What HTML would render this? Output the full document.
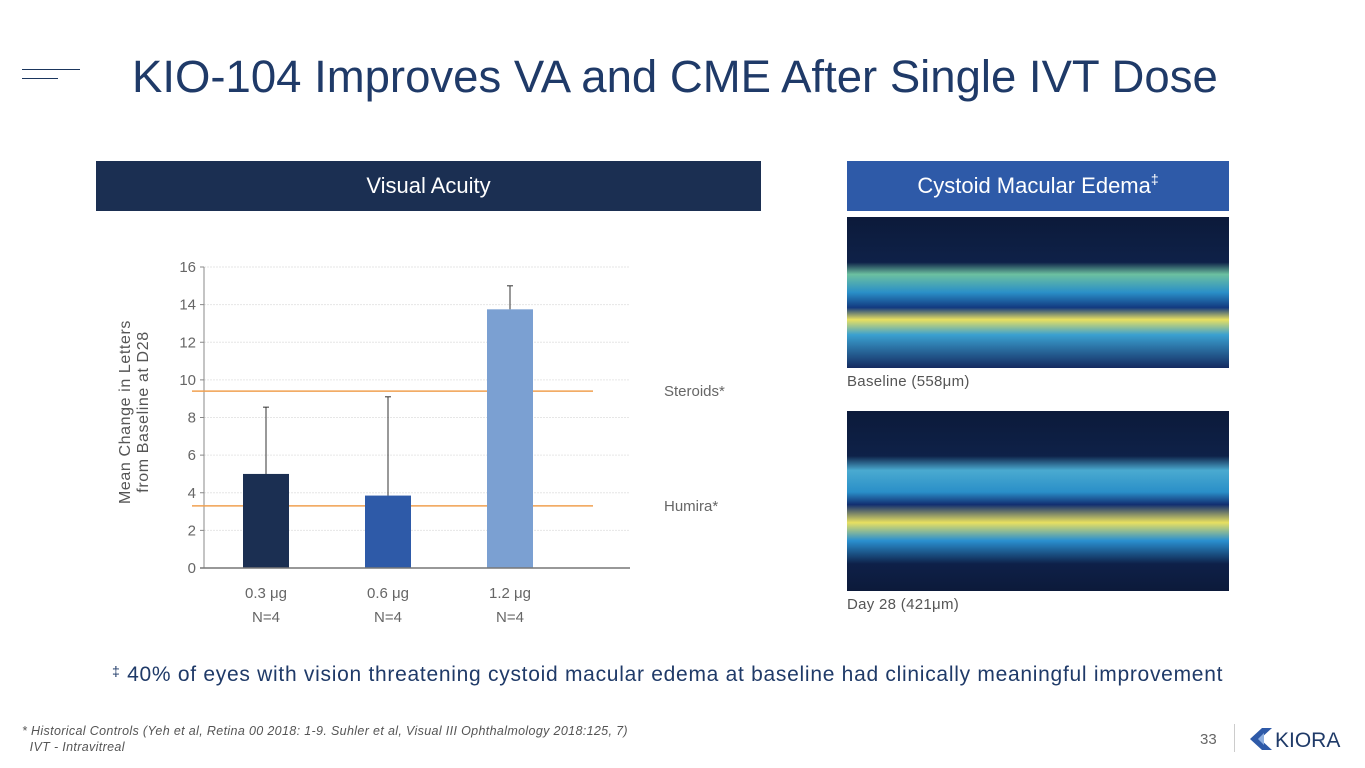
<!DOCTYPE html>
<html><head><meta charset="utf-8"><style>
body{margin:0;width:1365px;height:768px;background:#fff;position:relative;overflow:hidden;font-family:"Liberation Sans",sans-serif}
.abs{position:absolute}
</style></head><body>
<div class="abs" style="left:22px;top:69px;width:58px;height:1px;background:#1b365d"></div>
<div class="abs" style="left:22px;top:78px;width:36px;height:1px;background:#1b365d"></div>
<div class="abs" style="left:132px;top:51px;font-size:45.5px;color:#1f3a68;white-space:nowrap">KIO-104 Improves VA and CME After Single IVT Dose</div>
<div class="abs" style="left:96px;top:161px;width:665px;height:50px;background:#1b2f52;color:#fff;font-size:22px;line-height:50px;text-align:center">Visual Acuity</div>
<div class="abs" style="left:847px;top:161px;width:382px;height:50px;background:#2e5aa8;color:#fff;font-size:22px;line-height:50px;text-align:center">Cystoid Macular Edema<span style="font-size:14px;vertical-align:top;line-height:36px">‡</span></div>

<svg class="abs" style="left:0;top:0" width="1365" height="768">
<defs>
<linearGradient id="oct1" x1="0" y1="0" x2="0" y2="1">
<stop offset="0" stop-color="#0c1a3a"/><stop offset="0.3" stop-color="#0e2148"/><stop offset="0.38" stop-color="#6cc0a0"/><stop offset="0.5" stop-color="#2a8fc8"/><stop offset="0.6" stop-color="#123a80"/><stop offset="0.68" stop-color="#e8e060"/><stop offset="0.78" stop-color="#3aa0d0"/><stop offset="1" stop-color="#142a60"/></linearGradient>
<linearGradient id="oct2" x1="0" y1="0" x2="0" y2="1">
<stop offset="0" stop-color="#0c1a3a"/><stop offset="0.25" stop-color="#0e2148"/><stop offset="0.33" stop-color="#4aaad0"/><stop offset="0.45" stop-color="#2a8fc8"/><stop offset="0.52" stop-color="#122e70"/><stop offset="0.62" stop-color="#e8e060"/><stop offset="0.72" stop-color="#2a90d0"/><stop offset="0.85" stop-color="#0e2048"/><stop offset="1" stop-color="#0c1a3a"/></linearGradient>
</defs>
<rect x="847" y="217" width="382" height="151" fill="url(#oct1)"/>
<rect x="847" y="411" width="382" height="180" fill="url(#oct2)"/>
<g id="chart"></g>
</svg>

<div class="abs" style="left:847px;top:373px;font-size:15px;color:#555;letter-spacing:0.3px">Baseline (558μm)</div>
<div class="abs" style="left:847px;top:596px;font-size:15px;color:#555;letter-spacing:0.3px">Day 28 (421μm)</div>
<div class="abs" style="left:115px;top:252px;width:40px;height:260px;">
<div style="position:absolute;left:20px;top:160px;transform:translate(-50%,-50%) rotate(-90deg);white-space:nowrap;text-align:center;font-size:16px;line-height:18px;color:#555;letter-spacing:0.6px">Mean Change in Letters<br>from Baseline at D28</div></div>
<div class="abs" style="left:112px;top:663px;font-size:21px;letter-spacing:0.72px;color:#1f3a68;white-space:nowrap"><span style="font-size:14px;vertical-align:top">‡</span> 40% of eyes with vision threatening cystoid macular edema at baseline had clinically meaningful improvement</div>
<div class="abs" style="left:22px;top:723px;font-size:12.5px;letter-spacing:0.35px;font-style:italic;color:#555;line-height:16px;white-space:nowrap">* Historical Controls (Yeh et al, Retina 00 2018: 1-9. Suhler et al, Visual III Ophthalmology 2018:125, 7)<br>&nbsp;&nbsp;IVT - Intravitreal</div>
<div class="abs" style="left:1200px;top:731px;font-size:15px;color:#666">33</div>
<div class="abs" style="left:1234px;top:724px;width:1px;height:28px;background:#ccc"></div>
<svg class="abs" style="left:1248px;top:726px" width="26" height="26"><polygon points="2,13 14,2 24,2 12,13 24,24 14,24" fill="#2e5aa8"/><polygon points="10,13 16,7 16,19" fill="#8fb0e0"/></svg>
<div class="abs" style="left:1275px;top:729px;font-size:21px;color:#1f3a68">KIORA</div>

<script>
const categories=["0.3 μg","0.6 μg","1.2 μg"];
const nLabels=["N=4","N=4","N=4"];
const values=[5.0,3.85,13.75];
const errorTops=[8.55,9.1,15.0];
const barColors=["#1b2f52","#2e5aa8","#7ba0d2"];
const yTicks=[0,2,4,6,8,10,12,14,16];
const refLabels=["Steroids*","Humira*"];
const refValues=[9.4,3.3];
const ns="http://www.w3.org/2000/svg";
const g=document.getElementById("chart");
const y0=568,y1=267,vmax=16;
const yS=v=>y0-(v/vmax)*(y0-y1);
const xL=204,xR=630,bandW=122,firstCenter=266,barW=46;
const xS=i=>firstCenter+i*bandW;
function mk(t,a){const e=document.createElementNS(ns,t);for(const k in a)e.setAttribute(k,a[k]);g.appendChild(e);return e;}
yTicks.forEach(t=>{
 if(t>0){const l=mk("line",{x1:xL,x2:xR,y1:yS(t),y2:yS(t),stroke:"#e6e6e6","stroke-dasharray":"2,1"});
 
 }
 const tk=mk("line",{x1:xL-4,x2:xL,y1:yS(t),y2:yS(t),stroke:"#888"});
 
 
 const tx=mk("text",{x:xL-8,y:yS(t)+5,"text-anchor":"end","font-size":"15",fill:"#666","font-family":"Liberation Sans, sans-serif"});
 tx.textContent=t;
 
 
});
const ya=mk("line",{x1:xL,x2:xL,y1:y1,y2:y0,stroke:"#888"});


refValues.forEach((v,i)=>{
 const l=mk("line",{x1:192,x2:593,y1:yS(v),y2:yS(v),stroke:"#f0a050","stroke-width":"1.5"});
 
 
 const t=mk("text",{x:664,y:yS(v)+5,"font-size":"15",fill:"#666","font-family":"Liberation Sans, sans-serif"});
 t.textContent=refLabels[i];
 
 
});
values.forEach((v,i)=>{
 const cx=xS(i);
 const e=mk("line",{x1:cx,x2:cx,y1:yS(errorTops[i]),y2:yS(v),stroke:"#333"});
 
 
 const c=mk("line",{x1:cx-3,x2:cx+3,y1:yS(errorTops[i]),y2:yS(errorTops[i]),stroke:"#333"});
 
 
 const r=mk("rect",{x:cx-barW/2,y:yS(v),width:barW,height:y0-yS(v),fill:barColors[i]});
 
 
 const t=mk("text",{x:cx,y:598,"text-anchor":"middle","font-size":"15",fill:"#666","font-family":"Liberation Sans, sans-serif"});
 t.textContent=categories[i];
 
 
 const n=mk("text",{x:cx,y:622,"text-anchor":"middle","font-size":"15",fill:"#666","font-family":"Liberation Sans, sans-serif"});
 n.textContent=nLabels[i];
 
 
});
const xa=mk("line",{x1:xL-4,x2:xR,y1:y0,y2:y0,stroke:"#777","stroke-width":"1.5"});


</script>
</body></html>
